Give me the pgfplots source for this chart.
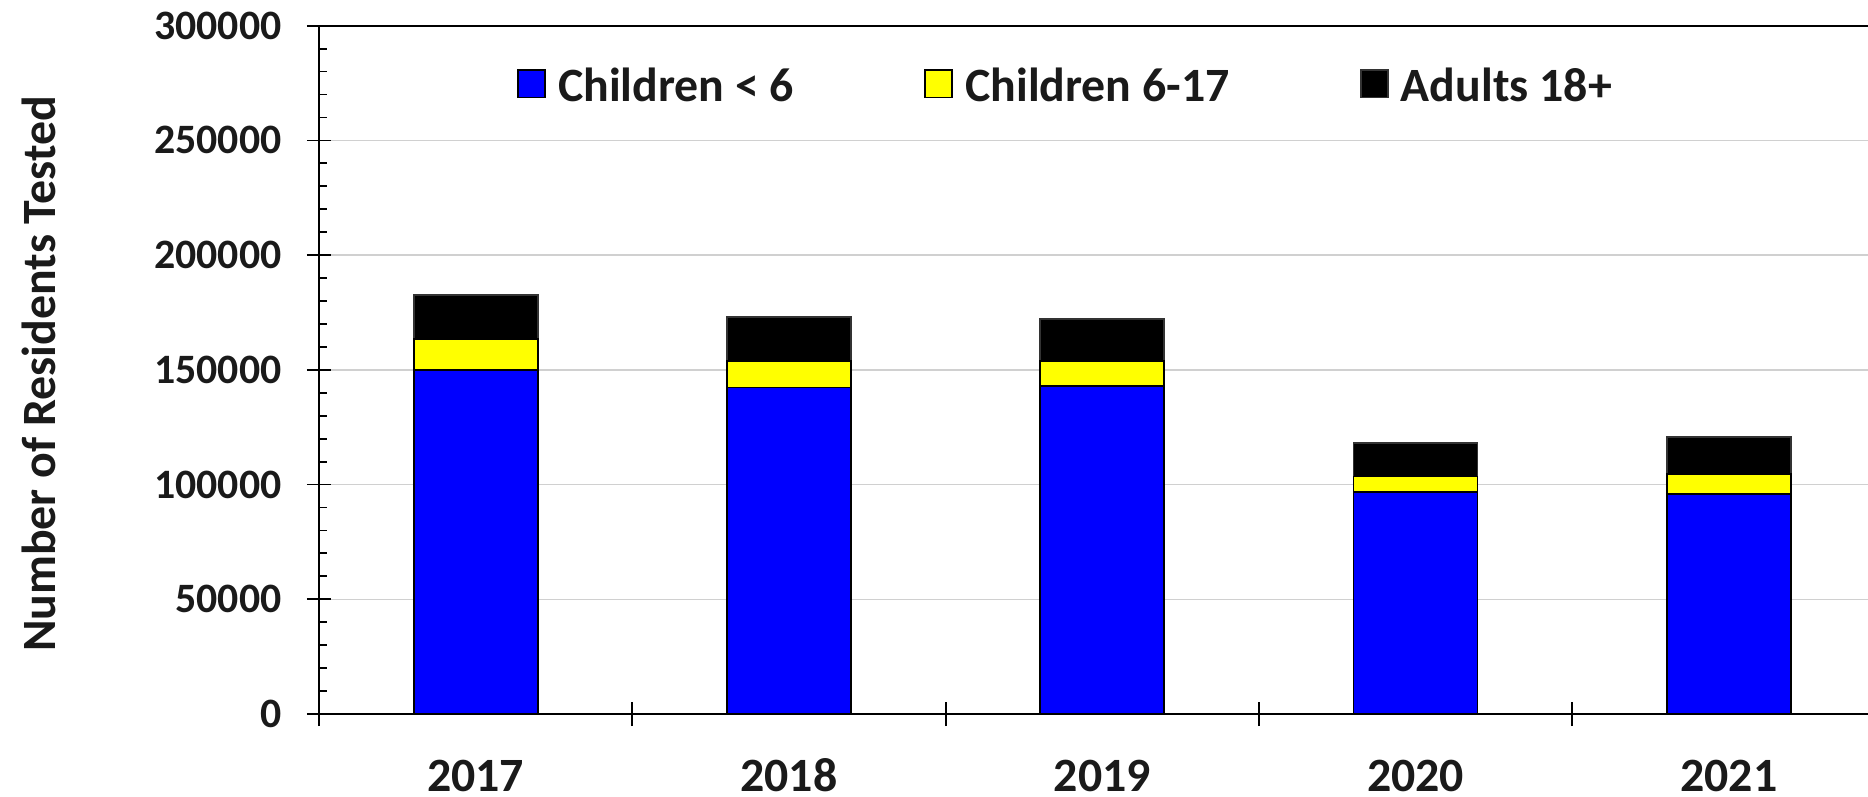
\documentclass[border=0pt]{standalone}
\usepackage{fontspec}
\setmainfont{Carlito}
\usepackage{pgfplots}
\pgfplotsset{compat=1.18}
\usepackage{pgfplotstable}

\definecolor{gridgray}{HTML}{D0D0D0}
\definecolor{txt}{HTML}{1A1A1A}
\definecolor{barblue}{HTML}{0000FF}
\definecolor{baryellow}{HTML}{FFFF00}

% residents tested per year, split by age group
\pgfplotstableread{
x year under6 age6to17 adults
0 2017 150000 13600 18900
1 2018 142300 11700 18900
2 2019 143000 11000 18000
3 2020 96800 6700 14600
4 2021 96000 8600 16000
}\tested

\begin{document}
\bfseries
\begin{tikzpicture}
\begin{axis}[
  at={(0,0)}, anchor=south west,
  scale only axis, width=783.25bp, height=344.15bp,
  ybar stacked, bar width=62bp,
  xmin=-0.5, xmax=4.5, ymin=0, ymax=300000,
  enlargelimits=false,
  axis line style={black, line width=0.9bp},
  tick pos=left,
  tick style={black, line width=0.9bp},
  tick align=inside,
  major tick length=12bp, minor tick length=4bp,
  every major y tick/.append style={xshift=-6bp},
  every major x tick/.append style={yshift=-6bp},
  xtick={-0.5,0.5,1.5,2.5,3.5}, xticklabels={,,,,},
  extra x ticks={0,1,2,3,4},
  extra x tick labels={2017,2018,2019,2020,2021},
  extra x tick style={major tick length=0pt, grid=none,
    xticklabel style={anchor=base, inner sep=0pt, yshift=-38.5bp,
      font=\fontsize{24}{28}\selectfont\bfseries, text=txt}},
  ytick={0,50000,...,300000}, minor y tick num=4,
  ymajorgrids, major grid style={gridgray, line width=0.7bp},
  scaled y ticks=false,
  /pgf/number format/.cd, fixed, 1000 sep={}, assume math mode=true,
  /pgfplots/.cd,
  yticklabel style={anchor=east, inner sep=0pt, xshift=-18.5bp,
    font=\fontsize{21}{24}\selectfont\bfseries, text=txt},
  ylabel={Number of Residents Tested},
  ylabel style={at={(axis description cs:-0.1786,0.494)}, anchor=center,
    font=\fontsize{24}{28}\selectfont\bfseries, text=txt},
  legend columns=-1,
  legend image code/.code={\draw[#1] (0bp,-5.6bp) rectangle (13.7bp,8.1bp);},
  legend style={at={(axis description cs:0.4758,0.912)}, anchor=center,
    draw=none, fill=none, inner sep=0pt,
    font=\fontsize{24}{28}\selectfont\bfseries, text=txt,
    nodes={inner sep=0pt},
    /tikz/every odd column/.append style={column sep=6bp},
    /tikz/every even column/.append style={column sep=65bp}},
]
\addplot[fill=barblue, draw=black, line width=0.9bp] table[x=x, y=under6]{\tested};
\addlegendentry{Children < 6}
\addplot[fill=baryellow, draw=black, line width=0.9bp] table[x=x, y=age6to17]{\tested};
\addlegendentry{Children 6-17}
\addplot[fill=black, draw=black!80, line width=0.9bp] table[x=x, y=adults]{\tested};
\addlegendentry{Adults 18+}
\end{axis}
\pgfresetboundingbox
\path[use as bounding box] (-159.5bp,-41.5bp) rectangle (774.5bp,357bp);
\end{tikzpicture}
\end{document}
